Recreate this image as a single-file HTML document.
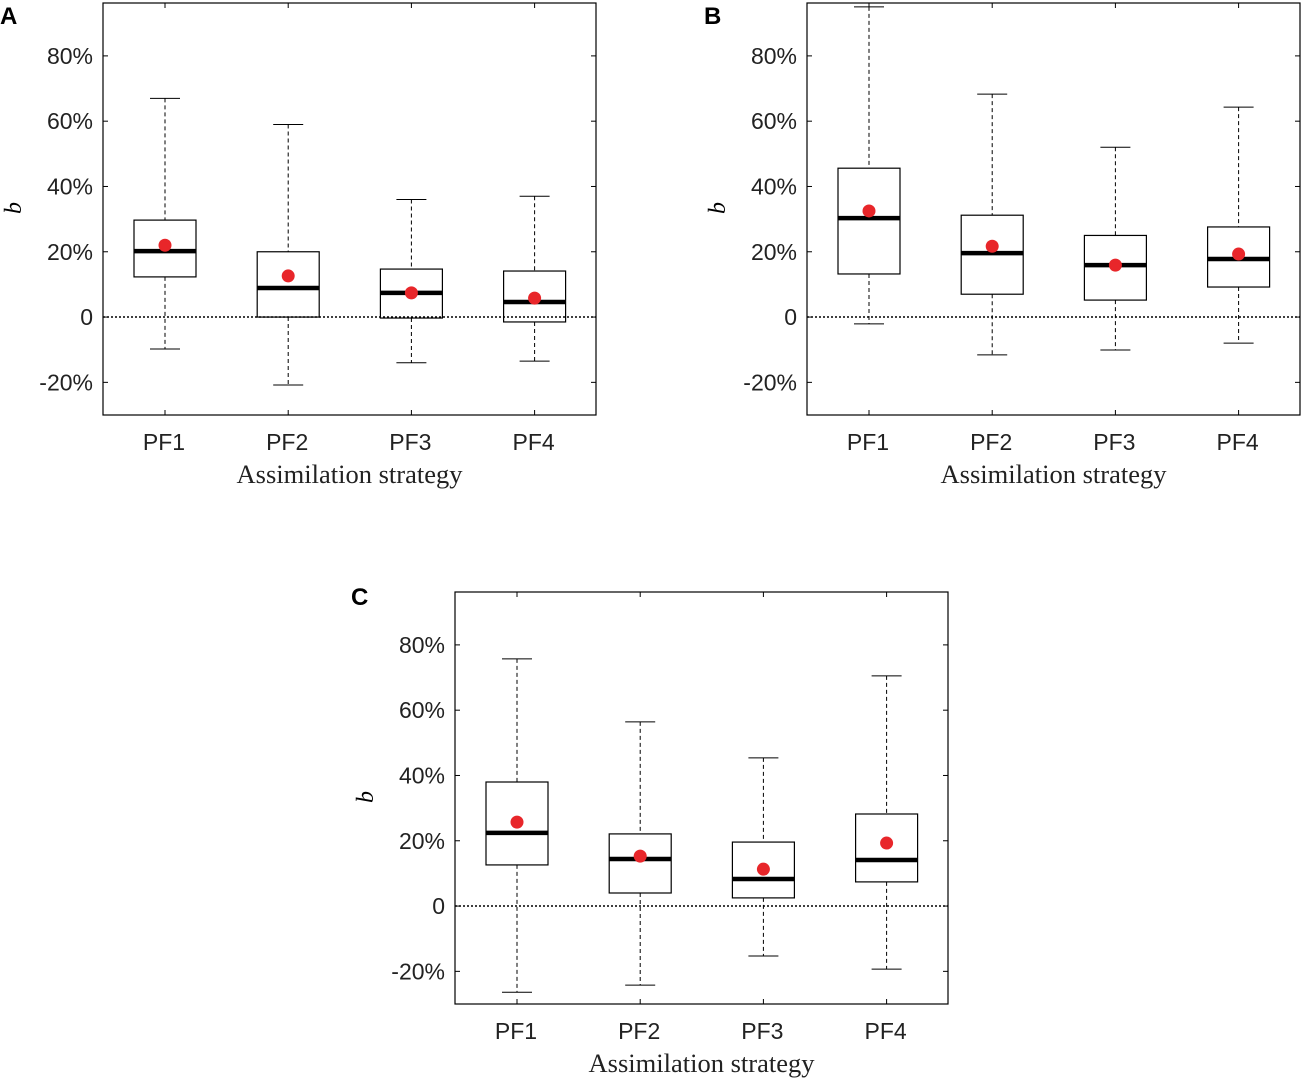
<!DOCTYPE html>
<html><head><meta charset="utf-8"><style>
body{margin:0;background:#fff;}
svg{display:block;}
</style></head><body>
<svg id="chart" width="1305" height="1080" xmlns="http://www.w3.org/2000/svg"></svg>
<script>
const categories = ["PF1","PF2","PF3","PF4"];
const yTicks = [-20,0,20,40,60,80];
const yTickLabels = ["-20%","0","20%","40%","60%","80%"];
const panelLabels = ["A","B","C"];
// per panel: whiskerHigh, q3, median, q1, whiskerLow, mean (percent)
const A_high=[67,59,36,37], A_q3=[29.7,20,14.7,14.1], A_med=[20.2,8.9,7.4,4.6], A_q1=[12.3,0,-0.3,-1.5], A_low=[-9.8,-20.8,-14,-13.5], A_mean=[22,12.6,7.4,5.8];
const B_high=[95,68.3,52,64.3], B_q3=[45.6,31.2,25,27.6], B_med=[30.3,19.6,15.9,17.8], B_q1=[13.2,7,5.2,9.2], B_low=[-2.1,-11.6,-10.1,-8], B_mean=[32.5,21.7,15.9,19.3];
const C_high=[75.7,56.4,45.4,70.5], C_q3=[38,22.1,19.6,28.2], C_med=[22.4,14.4,8.3,14.1], C_q1=[12.6,4,2.5,7.4], C_low=[-26.4,-24.2,-15.3,-19.3], C_mean=[25.7,15.3,11.3,19.3];
const panels=[
 {ox:103,oy:3,label:"A",d:[A_high,A_q3,A_med,A_q1,A_low,A_mean],lx:0,ly:24},
 {ox:807,oy:3,label:"B",d:[B_high,B_q3,B_med,B_q1,B_low,B_mean],lx:704,ly:24},
 {ox:455,oy:592,label:"C",d:[C_high,C_q3,C_med,C_q1,C_low,C_mean],lx:351,ly:605}
];
const NS="http://www.w3.org/2000/svg";
const svg=document.getElementById('chart');
function mk(tag,attrs,parent,text){const e=document.createElementNS(NS,tag);for(const k in attrs)e.setAttribute(k,attrs[k]);if(text!==undefined)e.textContent=text;(parent||svg).appendChild(e);return e;}
const W=493,H=412,YMIN=-30,YMAX=96.2;
panels.forEach((p,pi)=>{
 const g=mk('g',{});
 
 
 const y=v=>p.oy+(YMAX-v)/(YMAX-YMIN)*H;
 const x=i=>p.ox+62+i*123.2;
 const pl=mk('text',{x:p.lx,y:p.ly,'font-family':'Liberation Sans, sans-serif','font-size':24,'font-weight':'bold'},g,p.label);
 
 
 const zl=mk('line',{x1:p.ox,x2:p.ox+W,y1:y(0),y2:y(0),stroke:'#000','stroke-width':1.5,'stroke-dasharray':'2,2'},g);
 
 
 yTicks.forEach((t,i)=>{
  mk('line',{x1:p.ox,x2:p.ox+5,y1:y(t),y2:y(t),stroke:'#000'},g);
  mk('line',{x1:p.ox+W-5,x2:p.ox+W,y1:y(t),y2:y(t),stroke:'#000'},g);
  const tl=mk('text',{x:p.ox-10,y:y(t)+8,'text-anchor':'end','font-family':'Liberation Sans, sans-serif','font-size':23,fill:'#222'},g,yTickLabels[i]);
  
  
 });
 categories.forEach((c,i)=>{
  const cx=x(i);
  mk('line',{x1:cx,x2:cx,y1:p.oy,y2:p.oy+5,stroke:'#000'},g);
  mk('line',{x1:cx,x2:cx,y1:p.oy+H-5,y2:p.oy+H,stroke:'#000'},g);
  const xl=mk('text',{x:cx-1,y:p.oy+H+35,'text-anchor':'middle','font-family':'Liberation Sans, sans-serif','font-size':23,fill:'#222'},g,c);
  
  
  const [hi,q3,md,q1,lo,mn]=p.d.map(a=>a[i]);
  const bg=mk('g',{},g);
  
  
  mk('line',{x1:cx,x2:cx,y1:y(hi),y2:y(q3),stroke:'#000','stroke-dasharray':'4,3'},bg);
  mk('line',{x1:cx,x2:cx,y1:y(q1),y2:y(lo),stroke:'#000','stroke-dasharray':'4,3'},bg);
  mk('line',{x1:cx-15,x2:cx+15,y1:y(hi),y2:y(hi),stroke:'#000'},bg);
  mk('line',{x1:cx-15,x2:cx+15,y1:y(lo),y2:y(lo),stroke:'#000'},bg);
  mk('rect',{x:cx-31,y:y(q3),width:62,height:y(q1)-y(q3),fill:'none',stroke:'#000','stroke-width':1.2},bg);
  mk('line',{x1:cx-31,x2:cx+31,y1:y(md),y2:y(md),stroke:'#000','stroke-width':4.5},bg);
  const m=mk('circle',{cx:cx,cy:y(mn),r:6.5,fill:'#e8262a'},bg);
  
  
 });
 const fr=mk('rect',{x:p.ox,y:p.oy,width:W,height:H,fill:'none',stroke:'#000','stroke-width':1.2},g);
 
 
 const yt=mk('text',{x:0,y:0,transform:`translate(${p.ox-82},${p.oy+205}) rotate(-90)`,'text-anchor':'middle','font-family':'Liberation Serif, serif','font-style':'italic','font-size':24},g,'b');
 
 
 const xt=mk('text',{x:p.ox+W/2,y:p.oy+H+68,'text-anchor':'middle','font-family':'Liberation Serif, serif','font-size':26.5,fill:'#222'},g,'Assimilation strategy');
 
 
});
</script>
</body></html>
